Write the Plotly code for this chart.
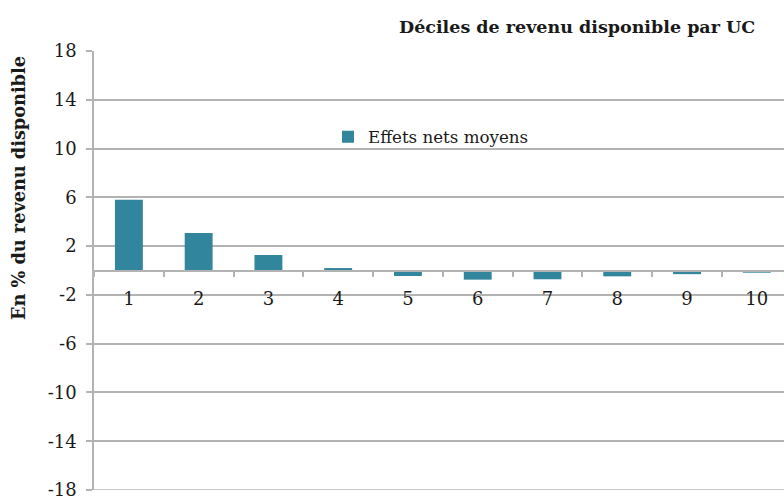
import plotly.graph_objects as go

deciles = ["1", "2", "3", "4", "5", "6", "7", "8", "9", "10"]
effets_nets = [5.8, 3.08, 1.27, 0.2, -0.45, -0.75, -0.72, -0.48, -0.3, -0.18]
y_ticks = [-18, -14, -10, -6, -2, 2, 6, 10, 14, 18]

FONT = "DejaVu Serif"
GRID = "#b3b3b3"
TXT = "#1a1a1a"

W, H = 784, 501
ML, MR, MT, MB = 94, 0, 51, 11

fig = go.Figure()
fig.add_trace(go.Bar(
    x=deciles, y=effets_nets, name="Effets nets moyens",
    marker=dict(color="#31859C", line=dict(width=0)),
    width=0.4, showlegend=True,
))

pw, ph = W - ML - MR, H - MT - MB


def px_x(x):
    return (x - ML) / pw


def px_y(y):
    return (H - MB - y) / ph


fig.update_layout(
    width=W, height=H,
    margin=dict(l=ML, r=MR, t=MT, b=MB, autoexpand=False),
    paper_bgcolor="white", plot_bgcolor="white",
    font=dict(family=FONT, size=18, color=TXT),
    showlegend=True,
    legend=dict(x=px_x(328), y=px_y(137), xanchor="left", yanchor="middle",
                font=dict(family=FONT, size=16.7, color=TXT),
                bgcolor="rgba(0,0,0,0)"),
    xaxis=dict(
        type="category", range=[-0.5, 9.39],
        anchor="free", position=0.5,
        showline=True, linecolor=GRID, linewidth=1.5,
        showgrid=False, zeroline=False,
        ticks="outside", ticklen=6, tickcolor=GRID, tickwidth=1.5,
        tickson="boundaries", ticklabelstandoff=12,
        tickfont=dict(family=FONT, size=18, color=TXT),
    ),
    yaxis=dict(
        range=[-18, 18], tickvals=y_ticks, ticktext=[str(v) for v in y_ticks],
        showline=True, linecolor=GRID, linewidth=1.5,
        showgrid=True, gridcolor=GRID, gridwidth=1.5,
        zeroline=False,
        ticks="outside", ticklen=6, tickcolor=GRID, tickwidth=1.5,
        ticklabelstandoff=6, ticklabeloverflow="allow",
        tickfont=dict(family=FONT, size=18, color=TXT),
    ),
    shapes=[
        dict(type="line", xref="paper", yref="y", x0=0, x1=1, y0=-18, y1=-18,
             line=dict(color=GRID, width=1.5), layer="below"),
    ],
    annotations=[
        dict(text="<b>Déciles de revenu disponible par UC</b>",
             x=px_x(757), y=px_y(27), xanchor="right", yanchor="middle",
             xref="paper", yref="paper", showarrow=False,
             font=dict(family=FONT, size=17.5, color=TXT)),
        dict(text="<b>En % du revenu disponible</b>",
             x=px_x(18), y=px_y(188), xanchor="center", yanchor="middle",
             xref="paper", yref="paper", showarrow=False, textangle=-90,
             font=dict(family=FONT, size=17.7, color=TXT)),
    ],
)

fig.write_html("out.html", config={"displayModeBar": False},
               post_script="document.body.style.margin='0';document.body.style.padding='0';")
